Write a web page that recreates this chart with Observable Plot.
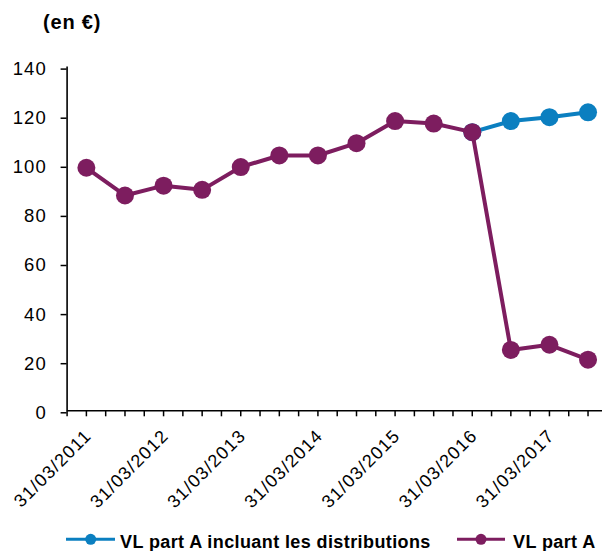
<!DOCTYPE html>
<html>
<head>
<meta charset="utf-8">
<script src="https://cdn.jsdelivr.net/npm/d3@7"></script>
<script src="https://cdn.jsdelivr.net/npm/@observablehq/plot@0.6"></script>
<style>
  body { margin: 0; background: #fff; font-family: "Liberation Sans", Arial, sans-serif; }
  #title { position: relative; height: 40px; }
  #title span { position: absolute; left: 43px; top: 12px; font-weight: bold; font-size: 20px; line-height: 20px; letter-spacing: 0.8px; color: #000; }
  #chart svg text { letter-spacing: 1.2px; }
  #legend { position: relative; height: 31px; overflow: hidden; }
  #legend .sw { position: absolute; top: 9px; }
  #legend .lt { position: absolute; top: 12.8px; font-weight: bold; font-size: 18px; line-height: 18px; letter-spacing: 0.4px; color: #000; white-space: nowrap; }
</style>
</head>
<body>
<div id="title"><span>(en €)</span></div>
<div id="chart"></div>
<div id="legend"></div>
<script>
// ---- data ----
const dates = ["31/03/2011","30/09/2011","31/03/2012","30/09/2012","31/03/2013","30/09/2013","31/03/2014","30/09/2014","31/03/2015","30/09/2015","31/03/2016","30/09/2016","31/03/2017","30/09/2017"];
const vlPartA = [99, 87.7, 91.7, 90, 99.3, 104, 104, 109, 118, 117, 113.5, 24.8, 26.9, 20.8];
const vlPartADistrib = [null, null, null, null, null, null, null, null, null, null, 113.5, 118, 119.6, 121.6];
const xTickLabels = ["31/03/2011","31/03/2012","31/03/2013","31/03/2014","31/03/2015","31/03/2016","31/03/2017"];
const yTicks = [0, 20, 40, 60, 80, 100, 120, 140];
const seriesNames = ["VL part A incluant les distributions", "VL part A"];
const colors = ["#0b7fc0", "#7d1d5f"];

// quarter index relative to 31/12/2010
const quarterOf = d => { const [dd, mm, yy] = d.split("/").map(Number); return (yy - 2011) * 4 + mm / 3; };
const rows = dates.map((d, i) => ({date: d, q: quarterOf(d), a: vlPartA[i], dist: vlPartADistrib[i]}));
const distRows = rows.filter(r => r.dist != null);
const quarterTicks = d3.range(0, 28);

const chart = Plot.plot({
  width: 602,
  height: 480,
  marginLeft: 66.6,
  marginRight: 0,
  marginTop: 26.6,
  marginBottom: 109.7,
  x: {type: "linear", domain: [0, 27.75], axis: null},
  y: {domain: [0, 140], axis: null},
  style: {fontFamily: "'Liberation Sans', Arial, sans-serif", fontSize: "18px", color: "#000", background: "#fff", overflow: "visible"},
  marks: [
    Plot.axisY({ticks: yTicks, tickSize: 6, tickPadding: 14, fontSize: 18.5, label: null, tickFormat: d => String(d), dy: 2, strokeWidth: 1.5}),
    Plot.axisX({ticks: quarterTicks, tickSize: 6, tickFormat: () => "", label: null, strokeWidth: 1.5}),
    Plot.ruleX([0], {y1: 0, y2: 140, stroke: "#000", strokeWidth: 1.6}),
    Plot.ruleY([0], {stroke: "#000", strokeWidth: 1.6}),
    Plot.text(xTickLabels, {x: d => quarterOf(d), y: () => 0, text: d => d, rotate: -45, textAnchor: "end", dx: 2, dy: 22, fontSize: 18, fill: "#000"}),
    Plot.line(distRows, {x: "q", y: "dist", stroke: colors[0], strokeWidth: 4}),
    Plot.dot(distRows, {x: "q", y: "dist", r: 9, fill: colors[0]}),
    Plot.line(rows, {x: "q", y: "a", stroke: colors[1], strokeWidth: 4}),
    Plot.dot(rows, {x: "q", y: "a", r: 9, fill: colors[1]})
  ]
});
document.getElementById("chart").appendChild(chart);

// ---- legend ----
const legend = document.getElementById("legend");
const legendItems = [
  {swLeft: 60, x1: 6, x2: 55, cx: 30.7, textLeft: 120},
  {swLeft: 450, x1: 7, x2: 55, cx: 31, textLeft: 513}
];
legendItems.forEach((it, i) => {
  const ns = "http://www.w3.org/2000/svg";
  const svg = document.createElementNS(ns, "svg");
  svg.setAttribute("class", "sw");
  svg.setAttribute("width", 62);
  svg.setAttribute("height", 21);
  svg.style.left = it.swLeft + "px";
  const line = document.createElementNS(ns, "line");
  line.setAttribute("x1", it.x1); line.setAttribute("x2", it.x2);
  line.setAttribute("y1", 10.3); line.setAttribute("y2", 10.3);
  line.setAttribute("stroke", colors[i]); line.setAttribute("stroke-width", 3);
  const c = document.createElementNS(ns, "circle");
  c.setAttribute("cx", it.cx); c.setAttribute("cy", 10.3); c.setAttribute("r", 5.5);
  c.setAttribute("fill", colors[i]);
  svg.appendChild(line); svg.appendChild(c);
  legend.appendChild(svg);
  const t = document.createElement("div");
  t.className = "lt";
  t.style.left = it.textLeft + "px";
  t.textContent = seriesNames[i];
  legend.appendChild(t);
});
</script>
</body>
</html>
